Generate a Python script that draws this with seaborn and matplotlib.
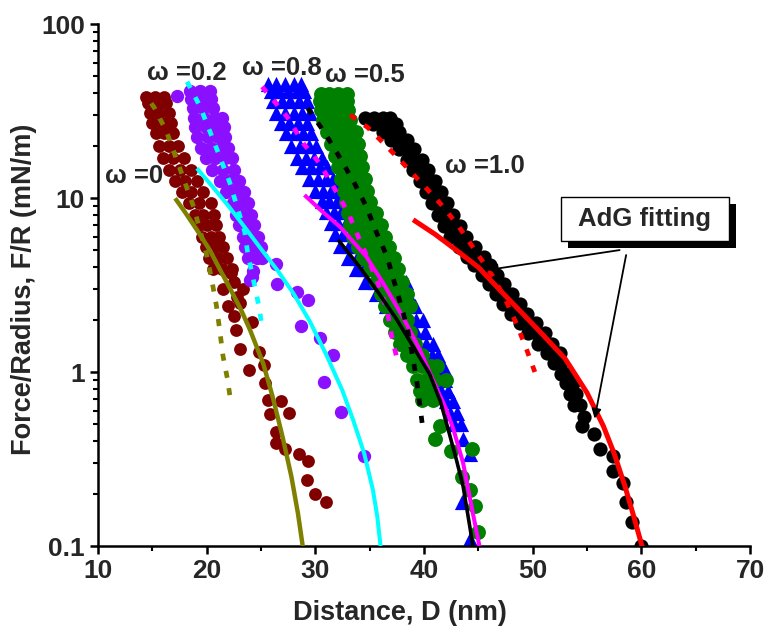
import numpy as np
import pandas as pd
import matplotlib
matplotlib.use("Agg")
import matplotlib.pyplot as plt
import seaborn as sns
from matplotlib.patches import Rectangle
from matplotlib.ticker import FixedLocator, FixedFormatter, NullFormatter

# ---------------- data ----------------
# measured points, dense parts as (F/R level, [D values])
w0_rows = [(38, [14.4, 15.2, 16.1]), (35, [14.6, 15.4, 16.3]), (31, [14.8, 15.6, 16.5]),
           (27, [15.0, 15.9, 16.7]), (23.5, [15.3, 16.1, 16.9]), (20, [15.6, 16.5, 17.4]),
           (17, [16.0, 16.9, 17.9]), (14.5, [16.5, 17.5, 18.6]), (12.5, [17.1, 18.0, 19.1]),
           (10.8, [17.7, 18.6, 19.7]), (9.3, [18.4, 19.3, 20.4]), (8.0, [18.9, 19.7, 20.7]),
           (7.0, [19.3, 20.0, 20.9]), (6.0, [19.6, 20.4, 21.1]), (5.2, [19.9, 20.7, 21.5]),
           (4.5, [20.2, 21.0, 21.9]), (3.9, [20.6, 21.4, 22.3])]
w0_x = [22.2, 22.5, 22.8, 23.1, 22.5, 22.7, 24.2, 23.1, 23.9, 24.8, 25.3, 25.4, 25.6, 26.8,
        25.8, 27.6, 26.4, 26.4, 27.2, 28.5, 29.3, 29.2, 30.0, 31.0, 21.5, 22.0, 23.3]
w0_y = [3.7, 3.3, 2.7, 2.5, 2.1, 1.74, 1.95, 1.35, 1.03, 1.31, 1.10, 0.86, 0.69, 0.68,
        0.57, 0.58, 0.45, 0.39, 0.36, 0.34, 0.31, 0.24, 0.20, 0.18, 3.0, 2.4, 3.0]

w02_rows = [(41, [18.5, 19.4, 20.3]), (37, [18.6, 19.5, 20.4]), (33, [18.7, 19.7, 20.6]),
            (29, [18.8, 19.8, 20.8, 21.4]), (25.5, [18.9, 19.9, 20.9, 21.6]),
            (22.5, [19.1, 20.1, 21.0, 21.7]), (19.5, [19.5, 20.4, 21.3, 22.0]),
            (17, [19.9, 20.8, 21.7, 22.3]), (14.5, [20.5, 21.5, 22.5]), (12.5, [21.2, 22.1, 23.0]),
            (10.8, [21.8, 22.6, 23.4]), (9.3, [22.4, 23.1, 23.8]), (8.0, [22.7, 23.4, 24.1]),
            (7.0, [23.0, 23.7, 24.4]), (6.0, [23.3, 24.0, 24.7]), (5.2, [23.5, 24.3, 25.0]),
            (4.5, [23.8, 24.6])]
w02_x = [17.3, 24.3, 24.0, 24.2, 25.1, 26.4, 26.5, 28.3, 29.3, 28.7, 30.4, 31.6, 30.8, 32.4, 34.5]
w02_y = [38.6, 3.8, 3.4, 3.5, 4.5, 4.2, 3.2, 2.9, 2.6, 1.84, 1.56, 1.26, 0.88, 0.59, 0.33]

w08_rows = [(45, [25.6, 26.4, 27.2, 28.0, 28.7]), (41, [25.9, 26.7, 27.5, 28.3, 29.0]),
            (36, [26.1, 26.9, 27.7, 28.5, 29.2]), (31, [26.4, 27.2, 28.0, 28.8, 29.5]),
            (27, [26.8, 27.6, 28.4, 29.2]), (23.5, [27.3, 28.1, 28.9, 29.6]),
            (20, [27.8, 28.6, 29.4, 30.1]), (17, [28.3, 29.1, 29.9, 30.6]),
            (15, [28.8, 29.6, 30.4, 31.1]), (12.8, [29.4, 30.2, 31.0, 31.6]),
            (11, [30.0, 30.7, 31.4, 32.0]), (9.6, [30.6, 31.3, 32.0, 32.6]),
            (8.3, [31.0, 31.7, 32.4, 33.1]), (7.2, [31.4, 32.1, 32.8, 33.5]),
            (6.2, [31.8, 32.5, 33.3, 34.0]), (5.3, [32.3, 33.1, 33.9, 34.6]),
            (4.5, [33.0, 33.8, 34.6, 35.3]), (3.9, [33.7, 34.5, 35.3, 36.1]),
            (3.3, [34.6, 35.5, 36.4, 37.3, 38.3]), (2.8, [35.6, 36.5, 37.4, 38.5]),
            (2.4, [36.5, 37.4, 38.4, 39.2]), (2.0, [37.5, 38.4, 39.3, 39.9]),
            (1.7, [38.5, 39.3, 40.1]), (1.45, [39.4, 40.2, 40.8]), (1.25, [40.0, 40.7, 41.3]),
            (1.05, [40.6, 41.3, 41.8]), (0.9, [41.2, 41.9]), (0.78, [41.6, 42.2]),
            (0.68, [42.0, 42.7]), (0.58, [42.4, 43.0]), (0.50, [42.8, 43.4])]
w08_x = [43.6, 44.2, 43.5, 44.2]
w08_y = [0.41, 0.34, 0.18, 0.11]

w05_rows = [(39.5, [30.5, 31.3, 32.1, 32.9]), (36, [30.4, 31.2, 32.0, 32.9]),
            (32, [30.5, 31.3, 32.1, 33.0]), (28, [30.7, 31.5, 32.4, 33.2]),
            (24, [31.1, 31.9, 32.8, 33.7]), (20.5, [31.4, 32.2, 33.1, 33.9]),
            (17.5, [31.8, 32.6, 33.4, 34.1]), (15, [32.1, 32.8, 33.6, 34.3]),
            (12.8, [32.4, 33.1, 33.9, 34.6]), (11, [32.6, 33.4, 34.2, 34.8]),
            (9.5, [32.8, 33.6, 34.4, 35.0]), (8.2, [33.0, 33.9, 34.8, 35.6]),
            (7.0, [33.2, 34.1, 35.1, 36.0]), (6.0, [33.5, 34.4, 35.4, 36.4]),
            (5.2, [33.9, 34.8, 35.8, 36.8]), (4.5, [34.4, 35.3, 36.2, 37.2]),
            (3.9, [35.0, 35.9, 36.8, 37.6]), (3.3, [35.6, 36.4, 37.2, 38.0]),
            (2.8, [36.0, 36.8, 37.6, 38.4]), (2.4, [36.4, 37.2, 38.0, 38.7]),
            (2.0, [36.9, 37.6, 38.4]), (1.7, [37.3, 38.0, 38.7]), (1.45, [37.8, 38.5, 39.2]),
            (1.25, [38.4, 39.1, 39.8]), (1.08, [39.0, 39.8, 40.6, 41.2]),
            (0.90, [39.4, 40.2, 41.0, 42.0]), (0.78, [39.6, 40.5]), (0.69, [39.8, 40.8])]
w05_x = [41.5, 41.0, 42.5, 44.4, 43.5, 44.2, 44.7, 45.0]
w05_y = [0.49, 0.41, 0.35, 0.36, 0.25, 0.21, 0.17, 0.12]

w10_rows = [(28.7, [34.6, 35.4, 36.2, 36.9]), (26.5, [35.3, 36.1, 36.9, 37.4]),
            (24, [36.2, 37.0, 37.7]), (21.5, [37.0, 37.7, 38.4]), (19, [37.7, 38.4, 39.1]),
            (16.5, [38.4, 39.1, 39.8]), (14.5, [39.0, 39.7, 40.4]), (12.5, [39.6, 40.3, 41.0]),
            (10.8, [40.2, 40.9, 41.6]), (9.3, [40.7, 41.4, 42.1]), (8.0, [41.3, 42.0, 42.7]),
            (6.9, [41.8, 42.5, 43.3]), (6.0, [42.4, 43.1, 43.9]), (5.2, [43.2, 43.9, 44.7]),
            (4.6, [44.0, 44.7, 45.5]), (4.1, [44.6, 45.3, 46.1]), (3.6, [45.3, 46.0, 46.7]),
            (3.2, [46.0, 46.7, 47.4]), (2.8, [46.6, 47.3, 48.1]), (2.45, [47.3, 48.0, 48.8]),
            (2.15, [48.0, 48.7, 49.5]), (1.9, [48.8, 49.5, 50.3]), (1.67, [49.6, 50.3, 51.1]),
            (1.45, [50.5, 51.2, 51.8]), (1.28, [51.3, 52.0, 52.5]), (1.12, [52.0, 52.6]),
            (0.98, [52.6, 53.2]), (0.86, [53.1, 53.7]), (0.75, [53.4, 54.0]), (0.65, [53.8, 54.4])]
w10_x = [54.7, 54.5, 55.6, 56.2, 57.4, 57.4, 58.3, 58.6, 59.1, 60.0]
w10_y = [0.55, 0.49, 0.44, 0.36, 0.33, 0.27, 0.23, 0.18, 0.138, 0.10]

# fitted curves
olive_dot_x = [14.9, 15.2, 16.3, 17.2, 18.8, 20.0, 20.5, 20.9, 21.2, 21.5, 21.9, 22.2]
olive_dot_y = [35, 32.9, 24.1, 16.9, 8.9, 4.7, 3.3, 2.4, 1.74, 1.24, 0.92, 0.69]
olive_x = [17.1, 18.0, 19.1, 20.3, 21.3, 22.3, 23.2, 24.0, 25.2, 26.1, 27.0, 27.8, 28.4, 28.9]
olive_y = [9.96, 8.3, 6.56, 5.0, 3.8, 2.9, 2.25, 1.74, 1.12, 0.71, 0.42, 0.25, 0.154, 0.094]
cyan_dot_x = [18.2, 19.4, 20.3, 21.2, 22.1, 22.8, 23.5, 23.8, 24.3, 24.8, 25.1]
cyan_dot_y = [46.6, 33.5, 24.1, 17.3, 12.4, 8.9, 6.4, 4.7, 3.4, 2.4, 1.82]
cyan_x = [19.1, 20.5, 22.0, 23.5, 25.0, 26.5, 28.0, 29.5, 31.0, 32.5, 33.5, 34.5, 35.3, 35.7, 36.0]
cyan_y = [14.8, 11.7, 9.0, 6.8, 5.1, 3.85, 2.82, 1.95, 1.26, 0.78, 0.525, 0.34, 0.21, 0.148, 0.10]
mag_dot_x = [25.1, 27.4, 28.9, 30.4, 31.7, 33.0, 33.9, 34.9, 35.8, 36.6, 37.0, 37.5]
mag_dot_y = [43.6, 29.3, 20.6, 15.8, 11.5, 8.3, 6.1, 4.4, 3.2, 2.27, 1.64, 1.2]
mag_x = [29.0, 30.6, 32.3, 34.7, 36.3, 38.0, 39.6, 41.0, 42.0, 42.7, 43.6, 44.5, 45.1]
mag_y = [10.4, 8.4, 6.8, 4.6, 3.2, 2.1, 1.35, 0.85, 0.62, 0.47, 0.30, 0.154, 0.10]
blk_dot_x = [29.3, 30.9, 32.1, 33.5, 34.7, 35.6, 36.6, 37.2, 37.9, 38.5, 38.9, 39.3, 39.6, 39.9]
blk_dot_y = [32.8, 23.5, 17.7, 12.5, 8.9, 6.4, 4.6, 3.4, 2.4, 1.75, 1.28, 0.92, 0.66, 0.47]
blk_x = [32.1, 34.1, 35.9, 37.5, 39.0, 40.5, 41.5, 42.3, 43.0, 43.6, 43.9, 44.3, 44.5]
blk_y = [5.75, 4.0, 2.8, 2.0, 1.4, 0.98, 0.68, 0.45, 0.31, 0.22, 0.17, 0.12, 0.10]
red_dot_x = [33.2, 34.8, 36.0, 37.8, 39.6, 41.5, 43.1, 44.7, 46.4, 47.5, 48.5, 49.4, 50.2]
red_dot_y = [30, 25.5, 21.5, 16.5, 12.5, 9.3, 7.0, 5.0, 3.5, 2.6, 1.9, 1.37, 1.0]
red_x = [39.0, 41.0, 43.0, 45.0, 47.0, 49.0, 51.0, 53.0, 55.0, 56.5, 57.5, 58.5, 59.3, 60.2]
red_y = [7.5, 6.2, 5.0, 4.0, 2.95, 2.19, 1.62, 1.19, 0.76, 0.49, 0.34, 0.22, 0.148, 0.093]

labels = ["ω =0", "ω =0.2", "ω =0.8", "ω =0.5", "ω =1.0"]
label_x = [10.64, 14.5, 23.25, 30.9, 41.9]
label_y = [12.2, 47.7, 50.9, 46.4, 13.9]

x_ticks = [10, 20, 30, 40, 50, 60, 70]
y_ticks = [0.1, 1, 10, 100]
y_ticklabels = ["0.1", "1", "10", "100"]


def expand(rows, xs, ys):
    X, Y = [], []
    for yv, xl in rows:
        for xv in xl:
            X.append(xv)
            Y.append(yv)
    return pd.DataFrame({"D": X + list(xs), "F": Y + list(ys)})


# ---------------- plotting ----------------
sns.set_style("ticks")
plt.rcParams["font.family"] = ["Liberation Sans", "DejaVu Sans"]
plt.rcParams["font.weight"] = "bold"

fig = plt.figure(figsize=(7.68, 6.32), dpi=100)
ax = fig.add_axes([98 / 768, 86 / 632, 652 / 768, 522 / 632])
ax.set_yscale("log")

scat = [
    (expand(w0_rows, w0_x, w0_y), "#800000", "o", 85),
    (expand(w02_rows, w02_x, w02_y), "#8a10ff", "o", 92),
    (expand(w08_rows, w08_x, w08_y), "#0000ff", "^", 120),
    (expand(w05_rows, w05_x, w05_y), "#008000", "o", 115),
    (expand(w10_rows, w10_x, w10_y), "#000000", "o", 105),
]
for df, c, m, s in scat:
    sns.scatterplot(data=df, x="D", y="F", color=c, marker=m, s=s, linewidth=0, ax=ax, zorder=2)

dotted = (0, (1.5, 2.2))
curves = [
    (olive_dot_x, olive_dot_y, "#808000", 3.4, dotted),
    (olive_x, olive_y, "#808000", 3.2, "-"),
    (cyan_dot_x, cyan_dot_y, "#00ffff", 3.4, dotted),
    (cyan_x, cyan_y, "#00ffff", 2.9, "-"),
    (mag_dot_x, mag_dot_y, "#ff00ff", 3.4, dotted),
    (mag_x, mag_y, "#ff00ff", 2.9, "-"),
    (blk_dot_x, blk_dot_y, "#000000", 3.4, dotted),
    (blk_x, blk_y, "#000000", 2.6, "-"),
    (red_dot_x, red_dot_y, "#ff0000", 3.4, dotted),
    (red_x, red_y, "#ff0000", 3.6, "-"),
]
for xs, ys, c, lw, ls in curves:
    sns.lineplot(x=xs, y=ys, color=c, lw=lw, sort=False, estimator=None, ax=ax, zorder=3)
    ln = ax.lines[-1]
    ln.set_linestyle(ls)
    ln.set_dash_capstyle("butt")
    ln.set_solid_capstyle("butt")
    ln.set_solid_joinstyle("round")

for t, xv, yv in zip(labels, label_x, label_y):
    ax.text(xv, yv, t, fontsize=18.5, fontweight="bold", ha="left", va="baseline", zorder=5)

# axes styling
ax.set_xlim(10, 70)
ax.set_ylim(0.1, 100)
ax.xaxis.set_major_locator(FixedLocator(x_ticks))
ax.xaxis.set_minor_locator(FixedLocator([15, 25, 35, 45, 55, 65]))
ax.yaxis.set_major_locator(FixedLocator(y_ticks))
ax.yaxis.set_major_formatter(FixedFormatter(y_ticklabels))
minor_y = [m * 10.0 ** e for e in (-1, 0, 1) for m in range(2, 10)]
ax.yaxis.set_minor_locator(FixedLocator(minor_y))
ax.yaxis.set_minor_formatter(NullFormatter())
ax.set_xticklabels([str(v) for v in x_ticks])
ax.tick_params(which="major", direction="out", length=5.5, width=1.8, labelsize=19, pad=4, color="black")
ax.tick_params(which="minor", direction="out", length=3.5, width=1.5, color="black")
for lab in ax.get_xticklabels() + ax.get_yticklabels():
    lab.set_fontweight("bold")
for side in ("top", "right"):
    ax.spines[side].set_visible(False)
for side in ("left", "bottom"):
    ax.spines[side].set_linewidth(1.8)
    ax.spines[side].set_color("black")
ax.set_xlabel("Distance, D (nm)", fontsize=19.5, fontweight="bold")
ax.set_ylabel("Force/Radius, F/R (mN/m)", fontsize=19.5, fontweight="bold")
ax.xaxis.set_label_coords((400 - 98) / 652, (546 - 600) / 522)
ax.yaxis.set_label_coords((37 - 98) / 652, (546 - 289) / 522)

# AdG fitting annotation box with drop shadow
bx0, bx1 = (561 - 98) / 652, (729 - 98) / 652
by0, by1 = (546 - 241) / 522, (546 - 197) / 522
dx, dy = 7 / 652, -7 / 522
ax.add_patch(Rectangle((bx0 + dx, by0 + dy), bx1 - bx0, by1 - by0, transform=ax.transAxes,
                       facecolor="black", edgecolor="black", lw=0, clip_on=False, zorder=6))
ax.add_patch(Rectangle((bx0, by0), bx1 - bx0, by1 - by0, transform=ax.transAxes,
                       facecolor="white", edgecolor="black", lw=1.0, clip_on=False, zorder=7))
ax.text((bx0 + bx1) / 2, (by0 + by1) / 2, "AdG fitting", transform=ax.transAxes,
        fontsize=18.5, fontweight="bold", ha="center", va="center", zorder=8)

arrows = [((58.0, 5.02), (45.9, 3.86)), ((58.6, 4.7), (55.7, 0.54))]
for tail, tip in arrows:
    ax.annotate("", xy=tip, xytext=tail,
                arrowprops=dict(arrowstyle="-|>", color="black", lw=1.3, mutation_scale=14,
                                shrinkA=0, shrinkB=0), zorder=8)

fig.savefig("out.png", dpi=100)
